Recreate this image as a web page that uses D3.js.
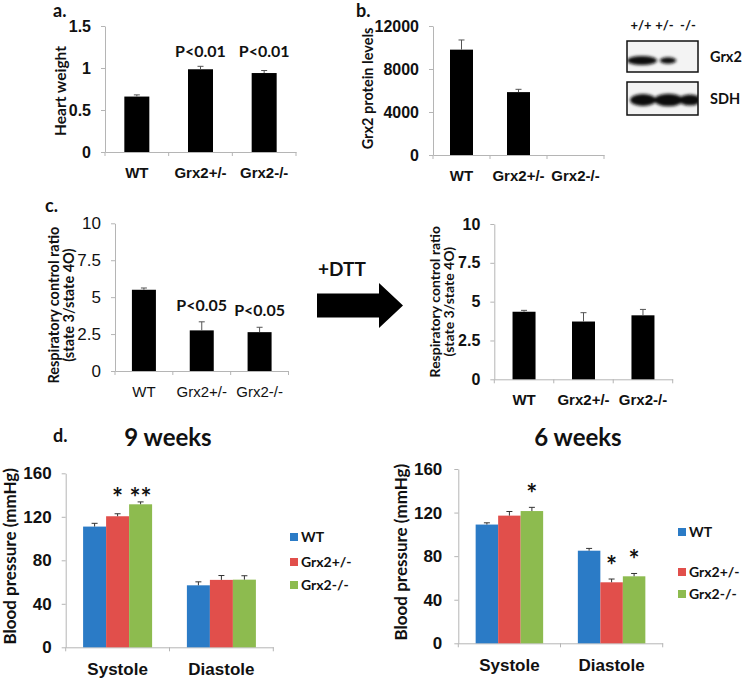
<!DOCTYPE html>
<html><head><meta charset="utf-8">
<script src="https://cdn.jsdelivr.net/npm/d3@7"></script>
<style>
body{margin:0;background:#fff;}
svg{display:block;font-family:Lato,"Open Sans",sans-serif;}
</style></head><body>
<svg id="c" width="745" height="678"></svg>
<script>
// ---------- DATA ----------
const genotypes = ["WT", "Grx2+/-", "Grx2-/-"];
const heartWeight = [0.66, 0.985, 0.94];
const heartWeightErr = [0.02, 0.035, 0.03];
const heartTicks = [0, 0.5, 1, 1.5];
const heartP = ["", "P<0.01", "P<0.01"];

const grx2Protein = [9800, 5850, 0];
const grx2ProteinErr = [900, 260, 0];
const proteinTicks = [0, 4000, 8000, 12000];

const rcr = [5.5, 2.75, 2.63];
const rcrErr = [0.12, 0.58, 0.33];
const rcrP = ["", "P<0.05", "P<0.05"];
const rcrDTT = [4.35, 3.72, 4.12];
const rcrDTTErr = [0.09, 0.57, 0.38];
const rcrTicks = [0, 2.5, 5, 7.5, 10];

const bpGroups = ["Systole", "Diastole"];
const bpSeries = ["WT", "Grx2+/-", "Grx2-/-"];
const bp9WT = [111, 57], bp9WTErr = [3, 3.2];
const bp9Het = [120.5, 62], bp9HetErr = [2.3, 4];
const bp9KO = [131.5, 62.2], bp9KOErr = [2.2, 3.6];
const bp9Sig = [["", ""], ["*", ""], ["**", ""]];
const bp6WT = [109, 85], bp6WTErr = [1.6, 2.1];
const bp6Het = [117.2, 56], bp6HetErr = [3.8, 3];
const bp6KO = [121.4, 61.5], bp6KOErr = [3.4, 2.6];
const bp6Sig = [["", ""], ["", "*"], ["*", "*"]];
const bpTicks = [0, 40, 80, 120, 160];

const blotLanes = ["+/+", "+/-", "-/-"];
const blotRows = ["Grx2", "SDH"];
const grx2Band = [1, 0.55, 0];
const sdhBand = [1, 1.1, 0.85];

// ---------- DRAW ----------
const svg = d3.select("#c");
const AX = "#b5b5b5";
const fmt = d3.format("");

function styleAxis(sel, fs, bold) {
  sel.select(".domain").attr("stroke", AX);
  sel.selectAll(".tick line").attr("stroke", AX);
  sel.selectAll(".tick text").attr("fill", "#111").attr("font-size", fs)
    .attr("font-weight", bold ? 700 : 400);
}

function drawAxes(o, x, y) {
  const g = svg.append("g");
  const ya = g.append("g").attr("transform", `translate(${o.x0},0)`)
    .call(d3.axisLeft(y).tickValues(o.ticks).tickSize(4).tickSizeOuter(0)
      .tickPadding(o.tp || 10).tickFormat(fmt));
  styleAxis(ya, o.tfs || 15, o.tickBold !== false);
  const xa = g.append("g").attr("transform", `translate(0,${o.yb})`)
    .call(d3.axisBottom(x).tickSize(0).tickSizeOuter(0).tickPadding(o.xp || 15));
  styleAxis(xa, o.xfs || 14, o.xBold !== false);
  // band edge ticks
  const dom = x.domain();
  const edges = dom.map(d => x(d)).concat([x(dom[dom.length - 1]) + x.bandwidth()]);
  g.selectAll(".edge").data(edges).join("line")
    .attr("x1", d => d).attr("x2", d => d).attr("y1", o.yb).attr("y2", o.yb + 4)
    .attr("stroke", AX);
  // y label
  const lab = g.append("text").attr("transform", `translate(${o.lx},${(o.yb + o.yt) / 2 + (o.lyOff || 0)}) rotate(-90)`)
    .attr("text-anchor", "middle").attr("font-weight", 700).attr("font-size", o.lfs || 14).attr("fill", "#111");
  o.ylabel.forEach((t, i) => lab.append("tspan").attr("x", 0).attr("dy", i === 0 ? 0 : (o.ldy || "1.1em")).text(t));
  return g;
}

function errBar(g, cx, yv, ye, color) {
  if (ye === yv) return;
  g.append("line").attr("x1", cx).attr("x2", cx).attr("y1", yv).attr("y2", ye)
    .attr("stroke", color).attr("stroke-width", 1);
  g.append("line").attr("x1", cx - 3).attr("x2", cx + 3).attr("y1", ye).attr("y2", ye)
    .attr("stroke", color).attr("stroke-width", 1);
}

function simplePanel(o) {
  const x = d3.scaleBand().domain(genotypes).range([o.x0, o.x1]);
  const y = d3.scaleLinear().domain([0, d3.max(o.ticks)]).range([o.yb, o.yt]);
  const g = drawAxes(o, x, y);
  const bars = g.append("g");
  genotypes.forEach((c, i) => {
    const cx = x(c) + x.bandwidth() / 2;
    const v = o.vals[i], e = o.errs[i];
    if (v > 0) bars.append("rect").attr("x", cx - o.bw / 2).attr("width", o.bw)
      .attr("y", y(v)).attr("height", y(0) - y(v)).attr("fill", "#000");
    errBar(bars, cx, y(v), y(v + e), "#555");
  });
  if (o.pvals) {
    const maxTop = d3.min(genotypes.map((c, i) => o.pvals[i] ? y(o.vals[i] + o.errs[i]) : Infinity));
    genotypes.forEach((c, i) => {
      if (!o.pvals[i]) return;
      const cx = x(c) + x.bandwidth() / 2;
      const yy = o.pRow ? maxTop - o.pOff : y(o.vals[i] + o.errs[i]) - o.pOff;
      g.append("text").attr("x", cx + (o.pdx || 0)).attr("y", yy).attr("text-anchor", "middle")
        .attr("font-weight", 700).attr("font-size", 16).attr("fill", "#111").text(o.pvals[i]);
    });
  }
  return g;
}

function groupedPanel(o) {
  const x = d3.scaleBand().domain(bpGroups).range([o.x0, o.x1]);
  const y = d3.scaleLinear().domain([0, d3.max(bpTicks)]).range([o.yb, o.yt]);
  const gw = o.bw * bpSeries.length;
  const xs = d3.scaleBand().domain(bpSeries).range([0, gw]);
  const color = d3.scaleOrdinal().domain(bpSeries).range(["#2b7bc6", "#e14f4b", "#8dbb4f"]);
  const g = drawAxes(Object.assign({ ticks: bpTicks }, o), x, y);
  g.selectAll(".tick text").attr("font-size", 17);
  const bars = g.append("g");
  bpSeries.forEach((s, si) => {
    bpGroups.forEach((grp, gi) => {
      const bx = x(grp) + (x.bandwidth() - gw) / 2 + xs(s);
      const v = o.vals[si][gi], e = o.errs[si][gi];
      bars.append("rect").attr("x", bx).attr("width", xs.bandwidth())
        .attr("y", y(v)).attr("height", y(0) - y(v)).attr("fill", color(s));
      errBar(bars, bx + xs.bandwidth() / 2, y(v), y(v + e), "#333");
    });
  });
  // significance stars
  bpGroups.forEach((grp, gi) => {
    const rowTop = d3.min(bpSeries.map((s, si) => o.sig[si][gi] ? y(o.vals[si][gi] + o.errs[si][gi]) : Infinity));
    bpSeries.forEach((s, si) => {
      const t = o.sig[si][gi];
      if (!t) return;
      const bx = x(grp) + (x.bandwidth() - gw) / 2 + xs(s) + xs.bandwidth() / 2;
      const center = o.starRow ? rowTop - 9 : y(o.vals[si][gi] + o.errs[si][gi]) - 18;
      g.append("text").attr("x", bx).attr("y", center + 14).attr("text-anchor", "middle")
        .attr("font-weight", 700).attr("font-size", 26).attr("fill", "#111").text(t);
    });
  });
  // legend
  const leg = g.append("g");
  bpSeries.forEach((s, i) => {
    const ly = o.legY[i];
    leg.append("rect").attr("x", o.legX).attr("y", ly - 4).attr("width", 8).attr("height", 8).attr("fill", color(s));
    leg.append("text").attr("x", o.legX + 11).attr("y", ly + 5).attr("font-weight", 700)
      .attr("font-size", 14).attr("fill", "#111").text(s);
  });
  // title
  g.append("text").attr("x", o.titleX).attr("y", 446).attr("text-anchor", "middle")
    .attr("font-weight", 700).attr("font-size", 24).attr("fill", "#111").text(o.title);
}

function panelLetter(t, x, yb) {
  svg.append("text").attr("x", x).attr("y", yb).attr("font-weight", 700).attr("font-size", 18)
    .attr("fill", "#111").text(t);
}

// a.
panelLetter("a.", 53, 17);
simplePanel({ x0: 105, x1: 296, yb: 152, yt: 26, ticks: heartTicks, vals: heartWeight, errs: heartWeightErr,
  bw: 25, lx: 66, ylabel: ["Heart weight"], pvals: heartP, pRow: true, pOff: 9, lfs: 15.5, tfs: 16, xfs: 15, lyOff: 2 });

// b.
panelLetter("b.", 356, 17);
simplePanel({ x0: 433, x1: 604, yb: 155, yt: 26, ticks: proteinTicks, vals: grx2Protein, errs: grx2ProteinErr,
  bw: 23, lx: 373, ylabel: ["Grx2 protein levels"], lfs: 14.5, tfs: 16, xfs: 15, lyOff: -2 });

// western blot
(function () {
  const defs = svg.append("defs");
  defs.append("filter").attr("id", "blur").attr("x", "-50%").attr("y", "-80%").attr("width", "200%").attr("height", "260%")
    .append("feGaussianBlur").attr("stdDeviation", 1.8);
  const lx = d3.scalePoint().domain(blotLanes).range([641, 688]);
  blotLanes.forEach(l => svg.append("text").attr("x", lx(l)).attr("y", 30).attr("text-anchor", "middle")
    .attr("font-weight", 700).attr("font-size", 13).attr("fill", "#111").text(l));
  const boxes = [{ y: 41, h: 31, band: grx2Band, cy: 60.5, ry: 4.5 }, { y: 82, h: 33, band: sdhBand, cy: 100, ry: 6 }];
  boxes.forEach((b, bi) => {
    defs.append("clipPath").attr("id", "clip" + bi).append("rect").attr("x", 627).attr("y", b.y).attr("width", 71).attr("height", b.h);
    svg.append("rect").attr("x", 627).attr("y", b.y).attr("width", 71).attr("height", b.h).attr("fill", "#f3f3f3");
    const bg = svg.append("g").attr("clip-path", `url(#clip${bi})`).append("g").attr("filter", "url(#blur)");
    blotLanes.forEach((l, i) => {
      const k = b.band[i];
      if (k <= 0) return;
      const cx = bi === 0 ? (i === 0 ? 642 : 668) : lx(l) + (i === 0 ? 2 : i === 1 ? 4 : 2);
      const rx = bi === 0 ? 15 * k : 13 * k;
      bg.append("ellipse").attr("cx", cx).attr("cy", b.cy).attr("rx", rx).attr("ry", b.ry * Math.sqrt(k))
        .attr("fill", "#111");
    });
    svg.append("rect").attr("x", 627).attr("y", b.y).attr("width", 71).attr("height", b.h)
      .attr("fill", "none").attr("stroke", "#111").attr("stroke-width", 1.5);
    svg.append("text").attr("x", 710).attr("y", b.y + b.h / 2 + 5).attr("font-weight", 700)
      .attr("font-size", 14.5).attr("fill", "#111").text(blotRows[bi]);
  });
})();

// c.
panelLetter("c.", 45, 212);
simplePanel({ x0: 115, x1: 288.5, yb: 371, yt: 223.3, ticks: rcrTicks, vals: rcr, errs: rcrErr,
  bw: 24, lx: 59, ylabel: ["Respiratory control ratio", "(state 3/state 4O)"], tickBold: false, xBold: false,
  tfs: 17, xfs: 15, pvals: rcrP, pOff: 11, lfs: 14.5, ldy: "1.02em", lyOff: 8 });
simplePanel({ x0: 494.3, x1: 672.7, yb: 379.3, yt: 224, ticks: rcrTicks, vals: rcrDTT, errs: rcrDTTErr,
  bw: 23, lx: 440, ylabel: ["Respiratory control ratio", "(state 3/state 4O)"], tfs: 16, xfs: 15, lfs: 14, ldy: "1.02em", lyOff: 0 });

// arrow
svg.append("path").attr("d", d3.line()([[317, 293.5], [379, 293.5], [379, 283], [403, 305.5], [379, 328], [379, 317.5], [317, 317.5]]) + "Z")
  .attr("fill", "#000");
svg.append("text").attr("x", 318).attr("y", 276).attr("font-weight", 700).attr("font-size", 19)
  .attr("fill", "#111").text("+DTT");

// d.
panelLetter("d.", 53, 442);
groupedPanel({ x0: 65.7, x1: 273.3, yb: 647.3, yt: 473.3, bw: 23, lx: 16, ylabel: ["Blood pressure (mmHg)"],
  lfs: 17, xfs: 16, xp: 16, tp: 10, lyOff: -4,
  vals: [bp9WT, bp9Het, bp9KO], errs: [bp9WTErr, bp9HetErr, bp9KOErr], sig: bp9Sig, starRow: true,
  legX: 290, legY: [537, 562, 585], title: "9 weeks", titleX: 168 });
groupedPanel({ x0: 458.3, x1: 662.7, yb: 643.3, yt: 469, bw: 22.5, lx: 407, ylabel: ["Blood pressure (mmHg)"],
  lfs: 17, xfs: 16, xp: 16, tp: 12, lyOff: -4,
  vals: [bp6WT, bp6Het, bp6KO], errs: [bp6WTErr, bp6HetErr, bp6KOErr], sig: bp6Sig, starRow: false,
  legX: 678, legY: [532, 572, 594], title: "6 weeks", titleX: 578 });
</script>
</body></html>
